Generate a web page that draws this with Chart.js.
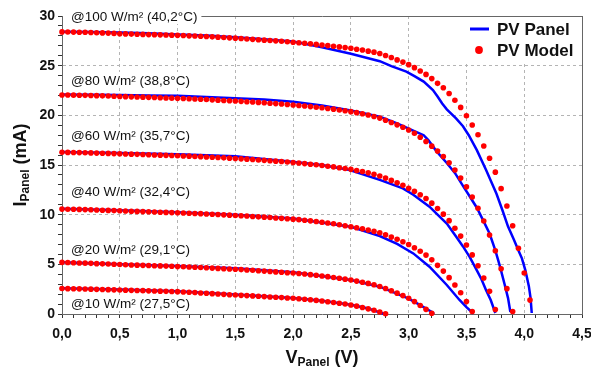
<!DOCTYPE html>
<html>
<head>
<meta charset="utf-8">
<script src="https://cdn.jsdelivr.net/npm/chart.js@4.4.1/dist/chart.umd.min.js"></script>
<style>
    html, body { margin: 0; padding: 0; background: #fff; }
    canvas { display: block; }
</style>
</head>
<body>
<canvas id="ivChart" width="591" height="367"></canvas>
<script>
// Curve labels, top to bottom
const curveLabels = [
    '@100 W/m\u00b2 (40,2\u00b0C)',
    '@80 W/m\u00b2 (38,8\u00b0C)',
    '@60 W/m\u00b2 (35,7\u00b0C)',
    '@40 W/m\u00b2 (32,4\u00b0C)',
    '@20 W/m\u00b2 (29,1\u00b0C)',
    '@10 W/m\u00b2 (27,5\u00b0C)'
];
const legendLabels = ['PV Panel', 'PV Model'];

// Model points are sampled every 0.05 V
const modelVoltage = [
    0.00, 0.05, 0.10, 0.15, 0.20, 0.25, 0.30, 0.35, 0.40, 0.45,
    0.50, 0.55, 0.60, 0.65, 0.70, 0.75, 0.80, 0.85, 0.90, 0.95,
    1.00, 1.05, 1.10, 1.15, 1.20, 1.25, 1.30, 1.35, 1.40, 1.45,
    1.50, 1.55, 1.60, 1.65, 1.70, 1.75, 1.80, 1.85, 1.90, 1.95,
    2.00, 2.05, 2.10, 2.15, 2.20, 2.25, 2.30, 2.35, 2.40, 2.45,
    2.50, 2.55, 2.60, 2.65, 2.70, 2.75, 2.80, 2.85, 2.90, 2.95,
    3.00, 3.05, 3.10, 3.15, 3.20, 3.25, 3.30, 3.35, 3.40, 3.45,
    3.50, 3.55, 3.60, 3.65, 3.70, 3.75, 3.80, 3.85, 3.90, 3.95,
    4.00, 4.05
];
const model100 = [
    28.40, 28.39, 28.38, 28.37, 28.36, 28.34, 28.32, 28.30, 28.28, 28.25,
    28.22, 28.20, 28.18, 28.17, 28.15, 28.13, 28.12, 28.10, 28.08, 28.07,
    28.05, 28.03, 28.00, 27.98, 27.96, 27.93, 27.90, 27.87, 27.83, 27.80,
    27.77, 27.73, 27.69, 27.65, 27.61, 27.57, 27.53, 27.50, 27.46, 27.41,
    27.36, 27.31, 27.26, 27.20, 27.14, 27.08, 27.02, 26.96, 26.89, 26.82,
    26.75, 26.66, 26.57, 26.46, 26.36, 26.22, 26.03, 25.82, 25.58, 25.36,
    25.10, 24.80, 24.47, 24.12, 23.70, 23.22, 22.78, 22.20, 21.52, 20.80,
    19.96, 19.02, 18.05, 16.92, 15.68, 14.28, 12.62, 10.88, 8.88, 6.62,
    4.12, 1.40
];
const model80 = [
    22.05, 22.04, 22.03, 22.02, 22.01, 21.99, 21.98, 21.96, 21.94, 21.92,
    21.90, 21.88, 21.86, 21.84, 21.83, 21.81, 21.79, 21.77, 21.75, 21.73,
    21.71, 21.69, 21.67, 21.64, 21.62, 21.59, 21.56, 21.53, 21.50, 21.47,
    21.44, 21.41, 21.37, 21.34, 21.30, 21.26, 21.22, 21.18, 21.14, 21.09,
    21.04, 20.99, 20.94, 20.88, 20.82, 20.76, 20.69, 20.62, 20.54, 20.46,
    20.37, 20.27, 20.16, 20.04, 19.88, 19.72, 19.50, 19.28, 19.04, 18.80,
    18.52, 18.19, 17.80, 17.37, 16.90, 16.40, 15.85, 15.22, 14.50, 13.68,
    12.80, 11.78, 10.64, 9.36, 7.95, 6.36, 4.55, 2.55, 0.25
];
const model60 = [
    16.28, 16.27, 16.26, 16.25, 16.23, 16.22, 16.20, 16.19, 16.17, 16.15,
    16.13, 16.11, 16.09, 16.07, 16.05, 16.03, 16.01, 15.99, 15.97, 15.95,
    15.93, 15.91, 15.89, 15.86, 15.84, 15.81, 15.78, 15.75, 15.72, 15.69,
    15.66, 15.62, 15.59, 15.55, 15.51, 15.47, 15.43, 15.39, 15.35, 15.30,
    15.25, 15.20, 15.14, 15.08, 15.02, 14.95, 14.88, 14.81, 14.73, 14.65,
    14.56, 14.45, 14.34, 14.21, 14.06, 13.89, 13.68, 13.45, 13.22, 12.95,
    12.66, 12.35, 12.01, 11.63, 11.16, 10.62, 10.05, 9.40, 8.64, 7.84,
    6.95, 5.95, 4.85, 3.62, 2.28, 0.45
];
const model40 = [
    10.56, 10.55, 10.54, 10.53, 10.51, 10.49, 10.47, 10.45, 10.43, 10.41,
    10.39, 10.37, 10.35, 10.33, 10.31, 10.29, 10.27, 10.25, 10.23, 10.21,
    10.19, 10.17, 10.14, 10.12, 10.10, 10.07, 10.04, 10.01, 9.98, 9.95,
    9.92, 9.89, 9.86, 9.82, 9.78, 9.75, 9.71, 9.67, 9.63, 9.59,
    9.55, 9.50, 9.44, 9.38, 9.31, 9.24, 9.16, 9.08, 8.99, 8.89,
    8.79, 8.68, 8.57, 8.45, 8.32, 8.18, 7.97, 7.74, 7.52, 7.28,
    6.99, 6.67, 6.31, 5.93, 5.45, 4.90, 4.32, 3.66, 2.92, 2.14,
    1.25, 0.25
];
const model20 = [
    5.20, 5.18, 5.16, 5.14, 5.12, 5.10, 5.07, 5.05, 5.03, 5.01,
    4.98, 4.96, 4.94, 4.92, 4.90, 4.88, 4.86, 4.84, 4.82, 4.80,
    4.77, 4.75, 4.73, 4.70, 4.68, 4.65, 4.62, 4.59, 4.56, 4.53,
    4.50, 4.47, 4.43, 4.40, 4.36, 4.32, 4.28, 4.24, 4.20, 4.16,
    4.12, 4.07, 4.02, 3.96, 3.90, 3.83, 3.76, 3.68, 3.60, 3.51,
    3.42, 3.31, 3.20, 3.08, 2.94, 2.77, 2.57, 2.34, 2.10, 1.85,
    1.58, 1.25, 0.86, 0.47, 0.07
];
const model10 = [
    2.56, 2.55, 2.54, 2.53, 2.51, 2.50, 2.48, 2.47, 2.45, 2.43,
    2.42, 2.40, 2.38, 2.37, 2.35, 2.33, 2.31, 2.30, 2.28, 2.27,
    2.25, 2.22, 2.19, 2.16, 2.12, 2.09, 2.05, 2.01, 1.98, 1.94,
    1.91, 1.88, 1.85, 1.82, 1.78, 1.75, 1.71, 1.68, 1.65, 1.61,
    1.58, 1.53, 1.48, 1.43, 1.37, 1.31, 1.24, 1.16, 1.08, 1.00,
    0.91, 0.79, 0.66, 0.52, 0.37, 0.20, 0.02
];

// Measured panel curves (V, mA)
const panel100V = [0, 0.25, 0.5, 0.75, 1.0, 1.25, 1.5, 1.75, 2.0, 2.25, 2.5, 2.75, 2.85, 2.98, 3.05, 3.13, 3.21, 3.25, 3.29, 3.33, 3.41, 3.47, 3.52, 3.59, 3.67, 3.76, 3.81, 3.86, 3.91, 3.95, 3.98, 4.01, 4.04, 4.055, 4.065];
const panel100I = [28.42, 28.40, 28.33, 28.27, 28.15, 28.03, 27.87, 27.65, 27.43, 26.85, 26.20, 25.45, 24.95, 24.40, 23.95, 23.40, 22.55, 21.90, 21.20, 20.60, 19.70, 18.90, 18.00, 16.50, 14.50, 12.10, 10.50, 8.80, 7.50, 6.40, 5.60, 4.40, 2.80, 1.60, 0.10];
const panel80V = [0, 0.25, 0.5, 0.75, 1.0, 1.25, 1.5, 1.75, 2.0, 2.25, 2.5, 2.75, 2.9, 3.01, 3.13, 3.17, 3.24, 3.33, 3.40, 3.47, 3.53, 3.59, 3.65, 3.70, 3.75, 3.79, 3.83, 3.86, 3.88];
const panel80I = [22.10, 22.08, 22.04, 22.00, 21.96, 21.85, 21.72, 21.60, 21.37, 20.98, 20.48, 19.87, 19.20, 18.60, 18.00, 17.50, 16.40, 15.20, 14.20, 12.90, 11.80, 10.70, 9.30, 8.10, 6.40, 4.80, 3.00, 1.60, 0.20];
const panel60V = [0, 0.5, 1.0, 1.5, 1.97, 2.25, 2.49, 2.75, 2.95, 3.04, 3.18, 3.25, 3.33, 3.41, 3.47, 3.53, 3.59, 3.63, 3.67, 3.71, 3.75];
const panel60I = [16.30, 16.20, 16.08, 15.88, 15.35, 15.00, 14.50, 13.50, 12.65, 12.00, 10.80, 10.00, 9.10, 7.80, 6.80, 5.70, 4.40, 3.50, 2.40, 1.40, 0.10];
const panel40V = [0, 0.5, 1.0, 1.5, 2.0, 2.5, 2.75, 2.9, 3.04, 3.18, 3.33, 3.44, 3.50, 3.56];
const panel40I = [10.60, 10.45, 10.25, 10.00, 9.62, 8.78, 7.85, 7.05, 6.10, 4.76, 2.92, 1.41, 0.70, 0.05];
const panel20V = [0, 0.5, 1.0, 1.5, 2.0, 2.5, 2.75, 3.0, 3.1, 3.2, 3.22];
const panel20I = [5.22, 5.02, 4.82, 4.60, 4.20, 3.42, 2.75, 1.55, 0.90, 0.20, 0.0];
const panel10V = [0, 0.5, 1.0, 1.5, 2.0, 2.25, 2.5, 2.65, 2.79];
const panel10I = [2.60, 2.46, 2.30, 1.97, 1.62, 1.34, 0.93, 0.55, 0.0];

// Where the curve labels sit, in axis units
const labelAnchorV = 0.078;
const labelAnchorI = [30.0, 23.56, 18.02, 12.31, 6.54, 1.11];

const BLUE = '#0000ff';
const RED = '#ff0000';
const GRID = '#b4b4b4';
const AXIS = '#666666';
const FONT = '"Liberation Sans", Arial, Helvetica, sans-serif';

function toPoints(xs, ys) {
    return ys.map((y, i) => ({ x: xs[i], y: y }));
}

const modelSeries = [model100, model80, model60, model40, model20, model10];
const panelSeries = [
    [panel100V, panel100I], [panel80V, panel80I], [panel60V, panel60I],
    [panel40V, panel40I], [panel20V, panel20I], [panel10V, panel10I]
];

const datasets = [];
modelSeries.forEach(values => {
    datasets.push({
        label: legendLabels[1],
        data: toPoints(modelVoltage, values),
        showLine: false,
        pointRadius: 2.8,
        pointHoverRadius: 2.8,
        pointBackgroundColor: RED,
        pointBorderWidth: 0,
        borderColor: RED,
        order: 0,
        clip: 6
    });
});
panelSeries.forEach(([vs, is]) => {
    datasets.push({
        label: legendLabels[0],
        data: toPoints(vs, is),
        borderColor: BLUE,
        borderWidth: 2.5,
        pointRadius: 0,
        tension: 0,
        order: 1,
        clip: 6
    });
});

const nearly = (a, b) => Math.abs(a - b) < 1e-6;
const isHalf = v => nearly(v * 2, Math.round(v * 2));
const isFive = v => nearly(v / 5, Math.round(v / 5));

// Text with a subscript, e.g. I_Panel (mA)
function drawSubscripted(ctx, parts, cx, baseline) {
    const big = 'bold 18px ' + FONT;
    const small = 'bold 12px ' + FONT;
    ctx.font = big;
    const w1 = ctx.measureText(parts[0]).width;
    const w3 = ctx.measureText(parts[2]).width;
    ctx.font = small;
    const w2 = ctx.measureText(parts[1]).width;
    let x = cx - (w1 + w2 + w3) / 2;
    ctx.textAlign = 'left';
    ctx.textBaseline = 'alphabetic';
    ctx.font = big;
    ctx.fillText(parts[0], x, baseline);
    x += w1;
    ctx.font = small;
    ctx.fillText(parts[1], x, baseline + 3);
    x += w2;
    ctx.font = big;
    ctx.fillText(parts[2], x, baseline);
}

const decorations = {
    id: 'decorations',
    afterDraw(chart) {
        const ctx = chart.ctx;
        const xs = chart.scales.x;
        const ys = chart.scales.y;
        const area = chart.chartArea;
        ctx.save();

        // curve labels on white boxes
        ctx.font = '13.5px ' + FONT;
        ctx.textBaseline = 'middle';
        ctx.textAlign = 'left';
        curveLabels.forEach((txt, i) => {
            const x = xs.getPixelForValue(labelAnchorV);
            const y = ys.getPixelForValue(labelAnchorI[i]);
            const w = ctx.measureText(txt).width;
            ctx.fillStyle = '#fff';
            ctx.fillRect(area.left + 1, y - 8, x - area.left + w + 3, 16);
            ctx.fillStyle = '#111';
            ctx.fillText(txt, x, y + 1);
        });

        // legend
        ctx.fillStyle = '#fff';
        ctx.fillRect(463, area.top + 1, 116, 44);
        ctx.strokeStyle = BLUE;
        ctx.lineWidth = 3;
        ctx.beginPath();
        ctx.moveTo(470, 29);
        ctx.lineTo(489, 29);
        ctx.stroke();
        ctx.fillStyle = RED;
        ctx.beginPath();
        ctx.arc(479, 50, 3.9, 0, Math.PI * 2);
        ctx.fill();
        ctx.fillStyle = '#111';
        ctx.font = 'bold 17px ' + FONT;
        ctx.textBaseline = 'alphabetic';
        ctx.fillText(legendLabels[0], 497, 35);
        ctx.fillText(legendLabels[1], 497, 56);

        // axis titles
        ctx.fillStyle = '#111';
        drawSubscripted(ctx, ['V', 'Panel', ' (V)'], (area.left + area.right) / 2, 363);
        ctx.save();
        ctx.translate(25.5, (area.top + area.bottom) / 2);
        ctx.rotate(-Math.PI / 2);
        drawSubscripted(ctx, ['I', 'Panel', ' (mA)'], 0, 0);
        ctx.restore();

        ctx.restore();
    }
};

const tickFont = { family: FONT, size: 14, weight: 'bold' };

new Chart(document.getElementById('ivChart'), {
    type: 'line',
    data: { datasets: datasets },
    options: {
        responsive: false,
        animation: false,
        devicePixelRatio: 1,
        layout: { padding: { top: 16, right: 9, left: 0, bottom: 0 } },
        plugins: {
            legend: { display: false },
            tooltip: { enabled: false }
        },
        scales: {
            x: {
                type: 'linear',
                position: 'bottom',
                min: 0,
                max: 4.5,
                // fixed height, and let the last label run into the margin
                afterFit: s => { s.height = 53; s.paddingLeft = 0; s.paddingRight = 0; },
                ticks: {
                    stepSize: 0.1,
                    autoSkip: false,
                    maxRotation: 0,
                    minRotation: 0,
                    padding: 8,
                    color: '#111',
                    font: tickFont,
                    callback: v => isHalf(v) ? v.toFixed(1).replace('.', ',') : ''
                },
                grid: {
                    color: c => (isHalf(c.tick.value) && c.tick.value > 0.01 && c.tick.value < 4.49) ? GRID : 'rgba(0,0,0,0)',
                    tickColor: '#333',
                    tickLength: 4,
                    tickBorderDash: []
                },
                border: { color: AXIS, width: 1, dash: [3, 3] }
            },
            y: {
                type: 'linear',
                position: 'left',
                min: 0,
                max: 30,
                afterFit: s => { s.width = 62; s.paddingTop = 0; s.paddingBottom = 0; },
                ticks: {
                    stepSize: 1,
                    autoSkip: false,
                    padding: 3,
                    color: '#111',
                    font: tickFont,
                    callback: v => isFive(v) ? String(v) : ''
                },
                grid: {
                    color: c => (isFive(c.tick.value) && c.tick.value > 0 && c.tick.value < 30) ? GRID : 'rgba(0,0,0,0)',
                    tickColor: '#333',
                    tickLength: 4,
                    tickBorderDash: []
                },
                border: { color: AXIS, width: 1, dash: [3, 3] }
            },
            // frame on top and right
            xTop: {
                type: 'linear',
                position: 'top',
                min: 0,
                max: 4.5,
                afterFit: s => { s.height = 0; s.paddingLeft = 0; s.paddingRight = 0; },
                ticks: { display: false },
                grid: { display: false, drawTicks: false },
                border: { color: AXIS, width: 1 }
            },
            yRight: {
                type: 'linear',
                position: 'right',
                min: 0,
                max: 30,
                afterFit: s => { s.width = 0; s.paddingTop = 0; s.paddingBottom = 0; },
                ticks: { display: false },
                grid: { display: false, drawTicks: false },
                border: { color: AXIS, width: 1 }
            }
        }
    },
    plugins: [decorations]
});
</script>
</body>
</html>
